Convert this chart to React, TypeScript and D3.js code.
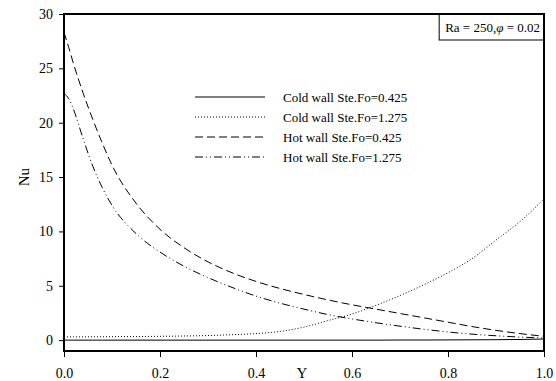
import React, { useRef, useEffect } from 'react';
import * as d3 from 'd3';

const yPos = [0, 0.01, 0.02, 0.04, 0.06, 0.08, 0.1, 0.15, 0.2, 0.25, 0.3, 0.35, 0.4, 0.45, 0.5, 0.55, 0.6, 0.65, 0.7, 0.75, 0.8, 0.85, 0.9, 0.95, 1.0];
const coldLow = [0, 0, 0, 0, 0, 0, 0, 0, 0, 0, 0, 0, 0, 0, 0, 0, 0, 0, 0.01, 0.01, 0.02, 0.03, 0.04, 0.06, 0.1];
const coldHigh = [0.3, 0.3, 0.3, 0.3, 0.31, 0.31, 0.32, 0.33, 0.35, 0.38, 0.42, 0.5, 0.6, 0.8, 1.2, 1.8, 2.4, 3.2, 4.1, 5.1, 6.2, 7.5, 9.2, 10.9, 13.0];
const hotLow = [28.3, 26.9, 25.4, 22.7, 20.3, 18.1, 16.1, 12.6, 10.2, 8.5, 7.2, 6.2, 5.4, 4.75, 4.2, 3.7, 3.25, 2.85, 2.45, 2.05, 1.65, 1.25, 0.9, 0.6, 0.35];
const hotHigh = [22.7, 22.2, 21.2, 18.5, 16.0, 14.0, 12.4, 9.8, 8.1, 6.8, 5.75, 4.85, 4.05, 3.4, 2.85, 2.35, 1.95, 1.6, 1.28, 1.0, 0.75, 0.55, 0.4, 0.28, 0.2];

const seriesNames = ['Cold wall Ste.Fo=0.425', 'Cold wall Ste.Fo=1.275', 'Hot wall Ste.Fo=0.425', 'Hot wall Ste.Fo=1.275'];
const seriesValues = [coldLow, coldHigh, hotLow, hotHigh];
const dashes = ['none', '1,2', '8,4', '8,3,1,3,1,3'];

const xTicks = [0, 0.2, 0.4, 0.6, 0.8, 1.0];
const yTicks = [0, 5, 10, 15, 20, 25, 30];

export default function App() {
  const svgRef = useRef<SVGSVGElement>(null);

  useEffect(() => {
    document.body.style.margin = '0';
    const svg = d3.select(svgRef.current);
    svg.selectAll('*').remove();
    const font = "'Liberation Serif', 'Times New Roman', Times, serif";

    const left = 64, right = 544, top = 14, bottom = 351;
    const x = d3.scaleLinear().domain([0, 1]).range([left, right]);
    const y = d3.scaleLinear().domain([-1, 30]).range([bottom, top]);

    const xa = svg.append('g')
      .attr('transform', `translate(0,${bottom})`)
      .call(d3.axisBottom(x).tickValues(xTicks).tickFormat(d3.format('.1f')).tickSize(6).tickPadding(11));
    xa.attr('font-family', font);
    xa.select('.domain').remove();
    xa.selectAll('text').attr('font-family', font).attr('font-size', 14).attr('fill', '#000');

    const ya = svg.append('g')
      .attr('transform', `translate(${left},0)`)
      .call(d3.axisLeft(y).tickValues(yTicks).tickSize(5).tickPadding(6));
    ya.attr('font-family', font);
    ya.select('.domain').remove();
    ya.selectAll('text').attr('font-family', font).attr('font-size', 14).attr('fill', '#000');

    const line = d3.line<number>()
      .x((_, i) => x(yPos[i]))
      .y(d => y(d))
      .curve(d3.curveMonotoneX);

    seriesValues.forEach((vals, k) => {
      svg.append('path')
        .attr('d', line(vals))
        .attr('fill', 'none')
        .attr('stroke', '#000')
        .attr('stroke-width', 1)
        .attr('stroke-dasharray', dashes[k]);
    });

    // frame
    svg.append('rect')
      .attr('x', left).attr('y', top)
      .attr('width', right - left).attr('height', bottom - top)
      .attr('fill', 'none').attr('stroke', '#000').attr('stroke-width', 2);

    // annotation
    const ann = svg.append('text')
      .attr('x', 540).attr('y', 32)
      .attr('text-anchor', 'end')
      .attr('font-family', font).attr('font-size', 13);
    ann.append('tspan').text('Ra = 250,');
    ann.append('tspan').attr('font-style', 'italic').text('φ');
    ann.append('tspan').text(' = 0.02');
    const tw = (ann.node() as SVGTextElement).getComputedTextLength();
    const boxLeft = 540 - tw - 6;
    svg.append('rect')
      .attr('x', boxLeft).attr('y', top)
      .attr('width', right - boxLeft).attr('height', 26)
      .attr('fill', 'none').attr('stroke', '#000').attr('stroke-width', 1);

    // legend
    seriesNames.forEach((name, k) => {
      const ly = 97 + k * 20;
      svg.append('line')
        .attr('x1', 195).attr('x2', 265)
        .attr('y1', ly).attr('y2', ly)
        .attr('stroke', '#000').attr('stroke-width', 1)
        .attr('stroke-dasharray', dashes[k]);
      svg.append('text')
        .attr('x', 283).attr('y', ly + 4.5)
        .attr('font-family', font).attr('font-size', 13)
        .text(name);
    });

    // axis titles
    svg.append('text')
      .attr('transform', `translate(29,${y(15)}) rotate(-90)`)
      .attr('text-anchor', 'middle')
      .attr('font-family', font).attr('font-size', 15)
      .text('Nu');
    svg.append('text')
      .attr('x', 302).attr('y', 378)
      .attr('text-anchor', 'middle')
      .attr('font-family', font).attr('font-size', 15)
      .text('Y');
  }, []);

  return <svg ref={svgRef} width={556} height={381} style={{ display: 'block' }} />;
}
